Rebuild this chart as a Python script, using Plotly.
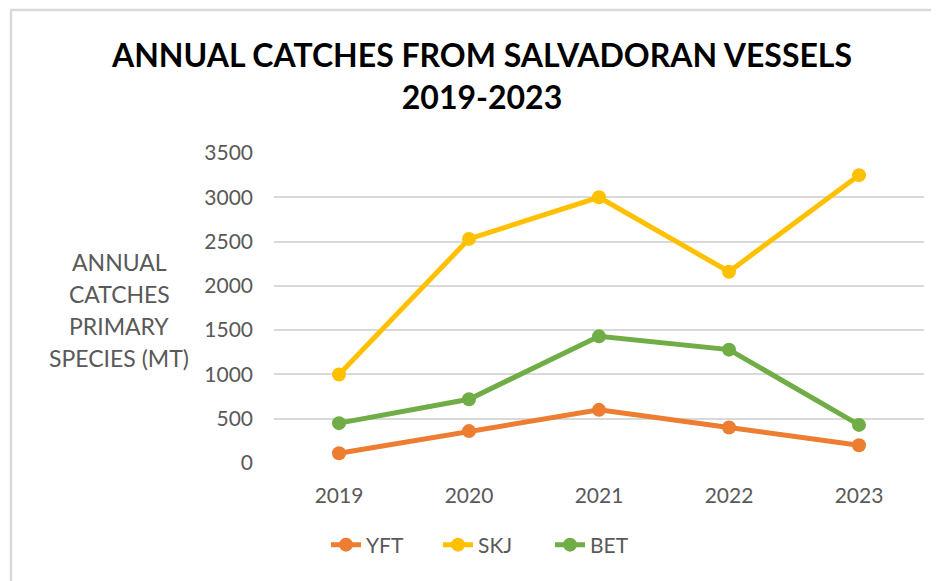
import plotly.graph_objects as go

years = ["2019", "2020", "2021", "2022", "2023"]
yft = [110, 360, 600, 400, 200]
skj = [1000, 2530, 3000, 2160, 3250]
bet = [450, 720, 1430, 1280, 430]
series_names = ["YFT", "SKJ", "BET"]
series_colors = ["#ED7D31", "#FFC000", "#70AD47"]
y_ticks = [0, 500, 1000, 1500, 2000, 2500, 3000, 3500]
title_lines = ["ANNUAL CATCHES FROM SALVADORAN VESSELS", "2019-2023"]
ytitle_lines = ["ANNUAL", "CATCHES", "PRIMARY", "SPECIES (MT)"]

OFF = 8  # page body margin
W, H = 939 - OFF, 581 - OFF
L, R, T, B = 274 - OFF, 15, 153 - OFF, 118
pw, ph = W - L - R, H - T - B

def px_x(p):
    return (p - OFF - L) / pw

def px_y(p):
    return (H + OFF - B - p) / ph

fig = go.Figure()
for name, vals, col in zip(series_names, [yft, skj, bet], series_colors):
    fig.add_trace(go.Scatter(
        x=years, y=vals, name=name, mode="lines+markers",
        line=dict(color=col, width=5),
        marker=dict(color=col, size=14),
    ))

font_family = "Lato, 'Open Sans', sans-serif"
gray = "#595959"

fig.update_layout(
    width=W, height=H,
    margin=dict(l=L, r=R, t=T, b=B, autoexpand=False),
    paper_bgcolor="white", plot_bgcolor="white",
    font=dict(family=font_family, color=gray, size=21),
    title=dict(
        text="<br>".join(title_lines),
        x=(482 - OFF) / W, xanchor="center", xref="container",
        y=1 - 59 / H, yanchor="middle", yref="container",
        font=dict(family=font_family, size=32, color="#000000", weight="bold"),
    ),
    showlegend=True,
    legend=dict(
        orientation="h", x=px_x(326), xanchor="left",
        y=px_y(545), yanchor="middle",
        font=dict(size=21, color=gray), bgcolor="rgba(0,0,0,0)",
        itemwidth=30, tracegroupgap=0,
        entrywidth=67, entrywidthmode="pixels",
    ),
    xaxis=dict(
        type="category", range=[-0.5, 4.5], showgrid=False, showline=False,
        zeroline=False, ticks="", ticklabelstandoff=18,
        tickfont=dict(size=21, color=gray), fixedrange=True,
    ),
    yaxis=dict(
        range=[0, 3500], tickvals=y_ticks, showgrid=True,
        gridcolor="#D9D9D9", gridwidth=1.5, zeroline=False, showline=False,
        ticks="", ticklabelstandoff=20, tickfont=dict(size=21, color=gray),
        fixedrange=True,
    ),
)

# Y-axis title as horizontal multi-line text
line_y = [262, 294, 326, 358]
for txt, yy in zip(ytitle_lines, line_y):
    fig.add_annotation(
        text=txt, xref="paper", yref="paper", x=px_x(119), y=px_y(yy),
        xanchor="center", yanchor="middle", showarrow=False,
        font=dict(size=23, color=gray, family=font_family),
    )

# Chart-area border (top and left edges visible)
fig.add_shape(type="line", xref="paper", yref="paper",
              x0=px_x(10), x1=px_x(939), y0=px_y(10), y1=px_y(10),
              line=dict(color="#D9D9D9", width=2.5))
fig.add_shape(type="line", xref="paper", yref="paper",
              x0=px_x(11), x1=px_x(11), y0=px_y(10), y1=px_y(581),
              line=dict(color="#D9D9D9", width=2.5))

fig.write_html("out.html")
